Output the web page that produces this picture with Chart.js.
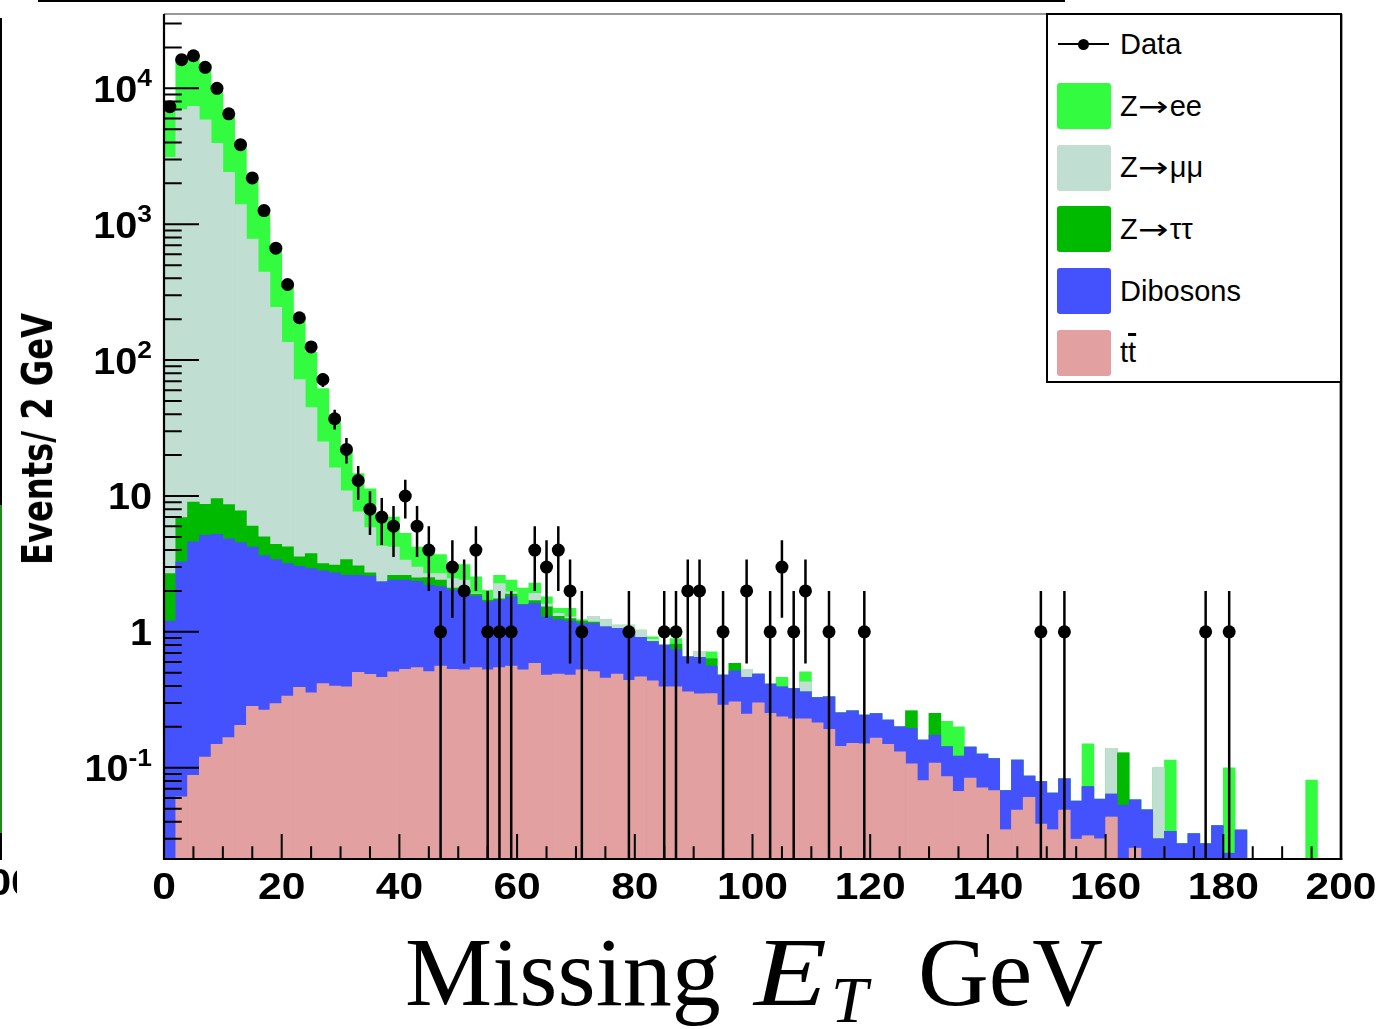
<!DOCTYPE html>
<html>
<head>
<meta charset="utf-8">
<title>Missing ET</title>
<script src="https://cdn.jsdelivr.net/npm/chart.js@4.4.1/dist/chart.umd.min.js"></script>
<style>
  html, body { margin:0; padding:0; background:#fff; }
  #page { position:relative; width:1380px; height:1029px; overflow:hidden; background:#fff; }
  #c { position:absolute; left:0; top:0; }
  .t { position:absolute; white-space:nowrap; color:#000; }
  .lt { position:absolute; left:1120px; font-family:"Liberation Sans", Arial, sans-serif; font-size:29px; line-height:29px; color:#000; white-space:nowrap; }
  .lb { position:absolute; left:1057px; width:54px; height:46px; border-radius:3px; }
  .arr { display:inline-block; width:32px; font-family:"DejaVu Sans", sans-serif; font-size:28px; transform-origin:left center; transform:scaleX(1.3); }
  .serif { font-family:"Liberation Serif", "Times New Roman", serif; }
</style>
</head>
<body>
<div id="page">
  <canvas id="c" width="1380" height="1029"></canvas>

  <!-- fragments of the neighbouring panel -->
  <div style="position:absolute;left:38px;top:0;width:1027px;height:2px;background:#000"></div>
  <div style="position:absolute;left:0;top:18px;width:2px;height:842px;background:#000"></div>
  <div style="position:absolute;left:0;top:505px;width:2px;height:328px;background:#1c8c1c"></div>
  <div style="position:absolute;left:0;top:862px;width:17px;height:42px;overflow:hidden">
    <span class="t" style="right:-18px;top:0;font:bold 37px 'Liberation Sans',Arial,sans-serif;line-height:42px;transform-origin:right center;transform:scaleX(1.15)">200</span>
  </div>

  <!-- legend -->
  <div style="position:absolute;left:1046px;top:13px;width:296px;height:370px;box-sizing:border-box;border:2.5px solid #000;background:#fff"></div>
  <div style="position:absolute;left:1058px;top:43px;width:51px;height:2px;background:#000"></div>
  <div style="position:absolute;left:1078px;top:38.5px;width:11px;height:11px;border-radius:50%;background:#000"></div>
  <div class="lt" style="top:29.5px">Data</div>
  <div class="lb" id="lb-zee" style="top:83px"></div>
  <div class="lt" style="top:91.5px">Z<span class="arr">→</span>ee</div>
  <div class="lb" id="lb-zmm" style="top:144.5px"></div>
  <div class="lt" style="top:153px">Z<span class="arr">→</span>μμ</div>
  <div class="lb" id="lb-ztt" style="top:206px"></div>
  <div class="lt" style="top:214.5px">Z<span class="arr">→</span>ττ</div>
  <div class="lb" id="lb-db" style="top:268px"></div>
  <div class="lt" style="top:276.5px">Dibosons</div>
  <div class="lb" id="lb-tt" style="top:329.5px"></div>
  <div class="lt" style="top:338px">t<span style="text-decoration:overline;text-decoration-thickness:3px">t</span></div>

  <!-- axis titles -->
  <div id="ytitle" class="t" style="left:38px;top:439px;font-weight:bold;font-size:42px;line-height:42px;font-family:'Liberation Sans Narrow','DejaVu Sans Condensed','Liberation Sans',sans-serif;">Events/ 2 GeV</div>
  <div class="t serif" style="left:405px;top:923px;font-size:98px;line-height:98px;">Missing</div>
  <div class="t serif" style="left:754px;top:923px;font-size:98px;line-height:98px;font-style:italic;transform-origin:left center;transform:scaleX(1.22);">E</div>
  <div class="t serif" style="left:831px;top:967px;font-size:66px;line-height:66px;font-style:italic;">T</div>
  <div class="t serif" style="left:918px;top:923px;font-size:98px;line-height:98px;">GeV</div>
</div>

<script>
// ---------------- data ----------------
const nBins = 100, binWidth = 2;                 // 0..200 GeV in 2 GeV bins
const binCenters = Array.from({length: nBins}, (_, i) => binWidth * i + binWidth / 2);

// observed events per bin (null = empty bin)
const dataCounts = [
  7330,16260,17380,14270,10000,6490,3850,2190,1260,666,
  360,205,125,72,37,22,13,8,7,6,
  10,6,4,1,3,2,4,1,1,1,
  null,4,3,4,2,1,null,null,null,1,
  null,null,1,1,2,2,null,1,null,2,
  null,1,3,1,2,null,1,null,null,1,
  null,null,null,null,null,null,null,null,null,null,
  null,null,null,null,1,null,1,null,null,null,
  null,null,null,null,null,null,null,null,1,null,
  1,null,null,null,null,null,null,null,null,null
];

// cumulative stack heights (THStack style: each = itself + everything below)
const ttbarStack = [
  null,0.061,0.088,0.12,0.149,0.167,0.205,0.283,0.266,0.296,
  0.337,0.39,0.356,0.417,0.399,0.394,0.503,0.486,0.463,0.508,
  0.529,0.547,0.51,0.56,0.53,0.525,0.547,0.525,0.547,0.56,
  0.525,0.586,0.48,0.49,0.48,0.525,0.51,0.456,0.49,0.44,
  0.467,0.436,0.394,0.394,0.362,0.35,0.352,0.289,0.306,0.248,
  0.3,0.251,0.237,0.229,0.229,0.214,0.192,0.144,0.151,0.15,
  0.165,0.149,0.131,0.107,0.0805,0.108,0.086,0.067,0.084,0.071,
  0.068,0.035,0.0488,0.0606,0.0385,0.035,0.0488,0.0298,0.0316,0.03,
  0.0434,null,0.0256,null,null,null,null,null,null,null,
  null,null,null,null,null,null,null,null,null,null
];
const dibosonsStack = [
  1.2,3.27,4.59,5.14,5.23,4.83,4.54,4.2,3.65,3.4,
  3.18,3.04,2.92,2.81,2.72,2.61,2.61,2.57,2.33,2.4,
  2.4,2.35,2.2,2.15,2.03,1.98,1.83,1.66,1.71,1.81,
  1.59,1.62,1.29,1.23,1.2,1.15,1.15,1.09,1.06,0.97,
  0.91,0.845,0.8,0.742,0.655,0.65,0.56,0.48,0.517,0.462,
  0.489,0.413,0.394,0.383,0.362,0.329,0.333,0.254,0.262,0.244,
  0.25,0.224,0.2,0.195,0.16,0.174,0.143,0.122,0.142,0.126,
  0.117,0.068,0.114,0.087,0.079,0.065,0.0827,0.0568,0.0727,0.0587,
  0.064,0.053,0.058,0.049,0.03,0.034,0.0276,0.0327,0.0276,0.0375,
  0.0235,0.0348,null,null,null,null,null,null,null,null
];
const ztautauStack = [
  2.69,6.94,9.03,8.69,9.57,8.65,7.76,6.01,5.0,4.4,
  4.22,3.56,3.77,3.18,3.1,3.4,3.06,2.72,2.33,2.61,
  2.61,2.5,2.51,2.4,2.1,2.0,1.9,1.71,1.75,1.9,
  1.59,1.7,1.53,1.3,1.25,1.2,1.18,1.09,1.06,0.97,
  0.91,0.85,0.8,0.812,0.655,0.65,0.637,0.48,0.586,0.462,
  0.489,0.413,0.394,0.383,0.362,0.329,0.333,0.254,0.262,0.244,
  0.25,0.224,0.2,0.262,0.16,0.251,0.143,0.122,0.142,0.126,
  0.117,0.068,0.114,0.087,0.079,0.065,0.0827,0.0568,0.0727,0.0587,
  0.064,0.129,0.058,0.049,0.03,0.034,0.0276,0.0327,0.0276,0.0375,
  0.0235,0.0348,null,null,null,null,null,null,null,null
];
const zmumuStack = [
  3110,6970,7380,5860,3940,2410,1396,776,444,245,
  135,72,44.7,25,16.1,10.9,7.63,5.85,4.27,4.2,
  3.37,3.0,2.69,2.69,2.47,2.4,1.93,1.71,2.27,1.97,
  1.59,1.92,1.6,1.37,1.29,1.2,1.3,1.23,1.12,1.12,
  1.03,0.88,0.8,0.812,0.66,0.72,0.637,0.48,0.586,0.53,
  0.489,0.413,0.394,0.383,0.429,0.329,0.333,0.254,0.262,0.244,
  0.25,0.224,0.2,0.262,0.16,0.251,0.143,0.122,0.142,0.126,
  0.117,0.068,0.114,0.087,0.079,0.065,0.0827,0.0568,0.0727,0.0587,
  0.139,0.129,0.058,0.049,0.1,0.034,0.0276,0.0327,0.0276,0.0375,
  0.0235,0.0348,null,null,null,null,null,null,null,null
];
const zeeStack = [
  7400,16600,17800,15100,10400,6500,4010,2220,1194,670,
  354,201,114,61.6,38.5,21.7,14.6,11.3,7.2,7.0,
  5.3,4.2,4.0,3.7,3.13,3.13,2.54,2.02,2.61,2.4,
  2.1,2.29,1.81,1.49,1.49,1.23,1.3,1.23,1.12,1.12,
  1.03,0.92,0.8,0.894,0.66,0.72,0.713,0.48,0.586,0.53,
  0.489,0.413,0.462,0.383,0.508,0.329,0.333,0.254,0.262,0.244,
  0.25,0.224,0.2,0.262,0.16,0.251,0.22,0.2,0.142,0.126,
  0.117,0.068,0.114,0.087,0.079,0.065,0.0827,0.0568,0.15,0.0587,
  0.139,0.129,0.058,0.049,0.1,0.114,0.0276,0.0327,0.0276,0.0375,
  0.1,0.0348,null,null,null,null,null,0.081,null,null
];

// tick labels
const xMajorTicks = [0,20,40,60,80,100,120,140,160,180,200];
const xTickLabels = ['0','20','40','60','80','100','120','140','160','180','200'];
const xMinorStep = 5;
const yMajorTicks = [0.1,1,10,100,1000,10000];
const yTickBase = ['10','1','10','10','10','10'];
const yTickExp  = ['-1','','','2','3','4'];

// ---------------- styles ----------------
const colors = { zee:'#33FB3F', zmm:'#C0DED1', ztt:'#00BA00', db:'#4452FE', tt:'#E3A0A0' };
document.getElementById('lb-zee').style.background = colors.zee;
document.getElementById('lb-zmm').style.background = colors.zmm;
document.getElementById('lb-ztt').style.background = colors.ztt;
document.getElementById('lb-db').style.background = colors.db;
document.getElementById('lb-tt').style.background = colors.tt;

const yt = document.getElementById('ytitle');
const k = 252 / yt.offsetWidth;
yt.style.transform = 'translate(-50%,-50%) rotate(-90deg) scaleX(' + k + ')';

function toXY(arr) {
  const out = [];
  arr.forEach((v, i) => { if (v !== null) out.push({x: binCenters[i], y: v}); });
  return out;
}
function barSet(label, arr, color, order) {
  return { type:'bar', label, data: toXY(arr), backgroundColor: color, borderWidth: 0,
           grouped: false, barPercentage: 1, categoryPercentage: 1, order };
}

const rootStyle = {
  id: 'rootStyle',
  beforeDatasetDraw(chart, args) {
    if (args.index !== 0) return;
    const {ctx, chartArea: a, scales: {x, y}} = chart;
    ctx.save();
    // ticks (drawn inside the frame, ROOT style)
    ctx.strokeStyle = '#000';
    ctx.lineWidth = 2;
    ctx.beginPath();
    for (let v = x.min; v <= x.max + 1e-9; v += xMinorStep) {
      const px = x.getPixelForValue(v);
      const len = (xMajorTicks.includes(v)) ? 25 : 12.7;
      ctx.moveTo(px, a.bottom); ctx.lineTo(px, a.bottom - len);
    }
    for (let e = Math.floor(Math.log10(y.min)); e <= Math.ceil(Math.log10(y.max)); e++) {
      for (let m = 1; m <= 9; m++) {
        const v = m * Math.pow(10, e);
        if (v < y.min || v > y.max) continue;
        const py = y.getPixelForValue(v);
        ctx.moveTo(a.left, py); ctx.lineTo(a.left + (m === 1 ? 35 : 17.7), py);
      }
    }
    ctx.stroke();
    // frame
    ctx.lineWidth = 1.2; ctx.strokeStyle = '#333';
    ctx.beginPath(); ctx.moveTo(a.left, a.top); ctx.lineTo(a.right, a.top); ctx.stroke();
    ctx.strokeStyle = '#000';
    ctx.lineWidth = 2.2;
    ctx.beginPath(); ctx.moveTo(a.left, a.top); ctx.lineTo(a.left, a.bottom + 1.1);
    ctx.moveTo(a.left - 1.1, a.bottom); ctx.lineTo(a.right + 1.3, a.bottom); ctx.stroke();
    ctx.lineWidth = 2.7;
    ctx.beginPath(); ctx.moveTo(a.right, a.top); ctx.lineTo(a.right, a.bottom + 1); ctx.stroke();
    // error bars of the data
    const meta = chart.getDatasetMeta(0);
    const raw = chart.data.datasets[0].data;
    ctx.lineWidth = 2.5;
    ctx.beginPath();
    meta.data.forEach((pt, i) => {
      const n = raw[i].y;
      const s = Math.sqrt(n);
      const top = y.getPixelForValue(n + s);
      const lo = n - s;
      const bot = lo > y.min ? y.getPixelForValue(lo) : a.bottom;
      ctx.moveTo(pt.x, top); ctx.lineTo(pt.x, bot);
    });
    ctx.stroke();
    ctx.restore();
  },
  afterDraw(chart) {
    const {ctx, chartArea: a, scales: {x, y}} = chart;
    const font = s => 'bold ' + s + 'px "Liberation Sans", Arial, sans-serif';
    function draw(txt, px, py, size, align, sx) {
      ctx.save(); ctx.font = font(size); ctx.fillStyle = '#000';
      ctx.textAlign = align; ctx.textBaseline = 'alphabetic';
      ctx.translate(px, py); ctx.scale(sx, 1); ctx.fillText(txt, 0, 0); ctx.restore();
    }
    function width(txt, size, sx) { ctx.save(); ctx.font = font(size); const w = ctx.measureText(txt).width; ctx.restore(); return w * sx; }
    xMajorTicks.forEach((v, i) => draw(xTickLabels[i], x.getPixelForValue(v), a.bottom + 40, 37, 'center', 1.15));
    const right = a.left - 12;
    yMajorTicks.forEach((v, i) => {
      const py = y.getPixelForValue(v);
      const ex = yTickExp[i];
      if (ex) {
        const ew = width(ex, 24, 1.1);
        draw(ex, right - ew, py - 2, 24, 'left', 1.1);
        draw(yTickBase[i], right - ew, py + 13.5, 36, 'right', 1.1);
      } else {
        draw(yTickBase[i], right, py + 13.5, 36, 'right', 1.1);
      }
    });
  }
};

new Chart(document.getElementById('c'), {
  type: 'bar',
  data: {
    datasets: [
      { type:'line', label:'Data', data: toXY(dataCounts), showLine:false, pointRadius:6.5,
        pointHoverRadius:6.5, pointBackgroundColor:'#000', pointBorderWidth:0, borderColor:'#000', order:0 },
      barSet('tt̄', ttbarStack, colors.tt, 1),
      barSet('Dibosons', dibosonsStack, colors.db, 2),
      barSet('Z→ττ', ztautauStack, colors.ztt, 3),
      barSet('Z→μμ', zmumuStack, colors.zmm, 4),
      barSet('Z→ee', zeeStack, colors.zee, 5)
    ]
  },
  options: {
    responsive: false, animation: false, devicePixelRatio: 1, events: [],
    layout: { padding: { left: 164, top: 14, right: 39, bottom: 170 } },
    plugins: { legend: { display: false }, tooltip: { enabled: false } },
    scales: {
      x: { type: 'linear', min: 0, max: 200, offset: false, display: false },
      y: { type: 'logarithmic', min: 0.0213, max: 35250, display: false }
    }
  },
  plugins: [rootStyle]
});
</script>
</body>
</html>
